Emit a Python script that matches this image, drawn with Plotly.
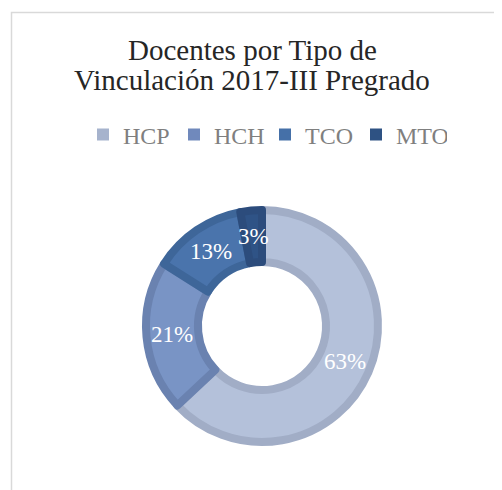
import math
import plotly.graph_objects as go

categorias = ["HCP", "HCH", "TCO", "MTO"]
porcentajes = [63, 21, 13, 3]

colores_relleno = ["#B4C1DA", "#7994C5", "#4A74AC", "#2F5386"]
colores_borde = ["#A1ADC6", "#6A82B0", "#3E6699", "#2C4C7C"]
colores_leyenda = ["#A6B3CD", "#7089BC", "#4570A8", "#2E5283"]

titulo = ["Docentes por Tipo de", "Vinculación 2017-III Pregrado"]

# la página añade 8 px de margen al cuerpo, así que todo va desplazado
W, H = 494, 482
cx, cy, r = 254, 318, 116  # centro y radio del anillo en píxeles
HOLE = 0.552

dominio = dict(
    x=[(cx - r) / W, (cx + r) / W],
    y=[(H - cy - r) / H, (H - cy + r) / H],
)

fig = go.Figure()

# traza base: sólo define el aspecto de la leyenda
fig.add_trace(go.Pie(
    labels=categorias, values=porcentajes,
    sort=False, direction="clockwise", rotation=0, hole=HOLE,
    marker=dict(colors=colores_leyenda, line=dict(width=0)),
    textinfo="none", hoverinfo="skip",
    domain=dominio,
))

fig.add_trace(go.Pie(
    labels=categorias, values=porcentajes,
    sort=False, direction="clockwise", rotation=0, hole=HOLE,
    marker=dict(colors=colores_relleno, line=dict(color=colores_borde, width=8)),
    textinfo="none",
    domain=dominio,
    showlegend=False,
    hoverinfo="label+percent",
))

# etiquetas de porcentaje en el centro del anillo, a tamaño fijo
total = sum(porcentajes)
r_medio = r * (1 + HOLE) / 2
anotaciones = []
acumulado = 0
for v in porcentajes:
    ang = 2 * math.pi * (acumulado + v / 2) / total
    acumulado += v
    anotaciones.append(dict(
        text=f"{round(100 * v / total)}%",
        x=(cx + r_medio * math.sin(ang)) / W,
        y=1 - (cy - r_medio * math.cos(ang)) / H,
        xref="paper", yref="paper", showarrow=False,
        xanchor="center", yanchor="middle",
        font=dict(family="Liberation Serif", size=23, color="white"),
    ))

for texto, ymid in zip(titulo, [42, 72]):
    anotaciones.append(dict(
        text=texto, x=244 / W, y=1 - ymid / H,
        xref="paper", yref="paper", showarrow=False,
        xanchor="center", yanchor="middle",
        font=dict(family="Liberation Serif", size=29, color="#262626"),
    ))

fig.update_layout(
    width=W, height=H,
    margin=dict(l=0, r=0, t=0, b=0),
    paper_bgcolor="white",
    plot_bgcolor="white",
    font=dict(family="Liberation Serif", color="#595959"),
    annotations=anotaciones,
    legend=dict(
        orientation="h",
        x=75 / W, xanchor="left",
        y=1 - 127 / H, yanchor="middle",
        font=dict(family="Liberation Serif", size=24, color="#7F7F7F"),
        itemwidth=30,
        entrywidth=46, entrywidthmode="pixels",
        traceorder="normal",
    ),
    shapes=[dict(
        type="rect", xref="paper", yref="paper",
        x0=3.5 / W, x1=1.05, y0=-0.05, y1=1 - 4.5 / H,
        line=dict(color="#D9D9D9", width=1.5),
        fillcolor="rgba(0,0,0,0)",
        layer="below",
    )],
)

fig.write_html("out.html")
